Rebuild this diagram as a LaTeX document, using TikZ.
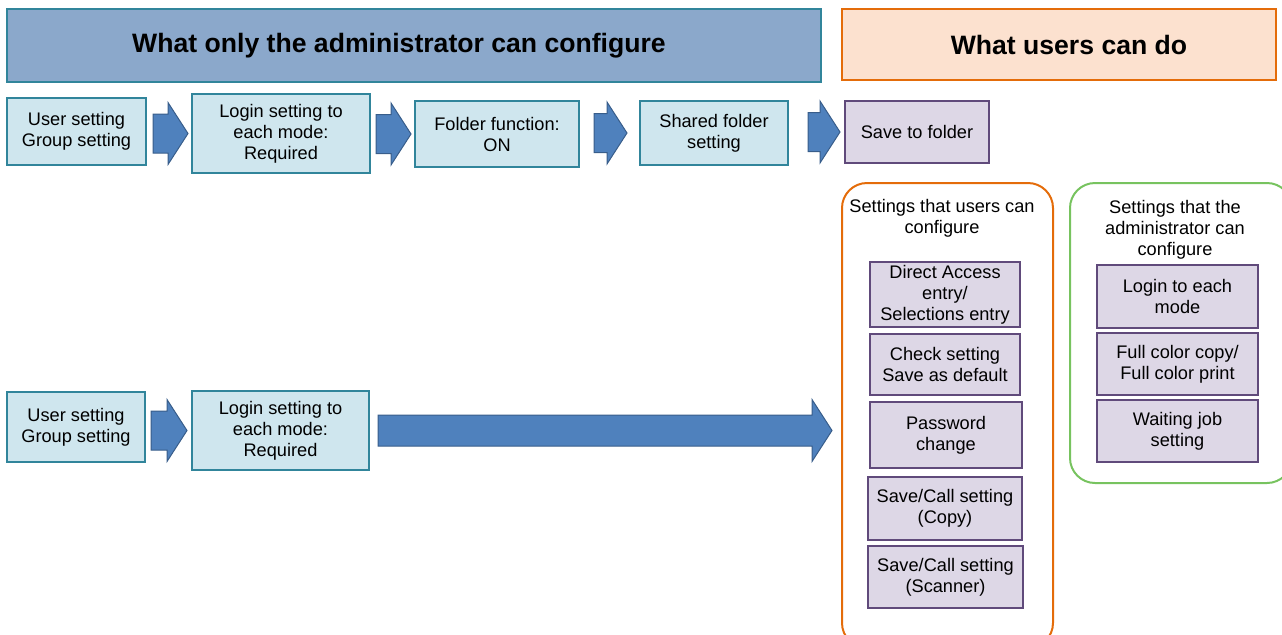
\documentclass[tikz,border=0pt]{standalone}
\usepackage{fontspec}
\setmainfont{Liberation Sans}
\usetikzlibrary{calc}

\definecolor{headblue}{RGB}{139,168,203}
\definecolor{tealline}{RGB}{49,133,155}
\definecolor{boxblue}{RGB}{207,230,238}
\definecolor{arrowblue}{RGB}{79,129,189}
\definecolor{arrowline}{RGB}{56,93,138}
\definecolor{boxlilac}{RGB}{221,215,230}
\definecolor{lilacline}{RGB}{96,74,123}
\definecolor{headpeach}{RGB}{252,225,207}
\definecolor{orangeline}{RGB}{228,108,10}
\definecolor{greenline}{RGB}{119,195,95}

\tikzset{
  header/.style={draw=tealline, fill=headblue, line width=1pt,
    font=\fontsize{13.3}{15}\selectfont\bfseries},
  stepbox/.style={draw=tealline, fill=boxblue, line width=1pt, align=center,
    inner sep=0pt, font=\fontsize{9.1}{10.5}\selectfont},
  itembox/.style={draw=lilacline, fill=boxlilac, line width=1pt, align=center,
    inner sep=0pt, font=\fontsize{9.1}{10.5}\selectfont},
  groupbox/.style={rounded corners=12.5pt, line width=1pt},
  grouptitle/.style={align=center, inner sep=0pt, font=\fontsize{9.1}{10.5}\selectfont},
  blockarrow/.style={fill=arrowblue, draw=arrowline, line width=0.5pt,
    to path={let \p1=(\tikztostart), \p2=(\tikztotarget) in
      (\x1,\y2+#1) -- (\x2-10pt,\y2+#1) -- (\x2-10pt,\y2+15.5pt) -- (\x2,\y2)
      -- (\x2-10pt,\y2-15.5pt) -- (\x2-10pt,\y2-#1) -- (\x1,\y2-#1) -- cycle}},
  blockarrow/.default=9.75pt
}

\begin{document}
\begin{tikzpicture}[x=0.5pt,y=-0.5pt]
  \useasboundingbox (0,0) rectangle (1282,634);
  \clip (0,0) rectangle (1282,634);
  % Headers
  \node[header, minimum width=407pt, minimum height=36.5pt] (admin) at (414,45.5) {What only the administrator can configure\hspace*{15pt}};
  \node[header, draw=orangeline, fill=headpeach, minimum width=217pt, minimum height=35.5pt] (users) at (1059,44.5) {\hspace*{10pt}What users can do};
  % Upper route
  \node[stepbox, minimum width=69.5pt, minimum height=33.5pt] (u1) at (76.5,131.5) {User setting\\Group setting};
  \node[stepbox, minimum width=89pt, minimum height=39.5pt] (l1) at (281,133.5) {Login setting to\\each mode:\\Required};
  \node[stepbox, minimum width=82pt, minimum height=33pt] (f1) at (497,134) {Folder function:\\ON};
  \node[stepbox, minimum width=74pt, minimum height=32pt] (s1) at (714,133) {Shared folder\\setting};
  \node[itembox, minimum width=72pt, minimum height=31pt] (sv) at (917,132) {Save to folder};
  \path[blockarrow] ([xshift=3pt]u1.east) to ([xshift=-1.5pt]l1.west);
  \path[blockarrow] ([xshift=2.5pt]l1.east) to ([xshift=-1.5pt]f1.west);
  \path[blockarrow] ([xshift=7pt]f1.east) to ([xshift=-6pt]s1.west);
  \path[blockarrow] ([xshift=9.5pt]s1.east) to ([xshift=-2pt]sv.west);
  % Lower route
  \node[stepbox, minimum width=69pt, minimum height=35pt] (u2) at (76,427) {User setting\\Group setting};
  \node[stepbox, minimum width=88.5pt, minimum height=39.5pt] (l2) at (280.5,430.5) {Login setting to\\each mode:\\Required};
  % Groups on the right
  \node[groupbox, draw=orangeline, minimum width=105.5pt, minimum height=232.5pt] (ug) at (947.5,415.5) {};
  \node[groupbox, draw=greenline, minimum width=111pt, minimum height=150pt] (ag) at (1181,333) {};
  \node[grouptitle] (ugt) at (942,218.5) {Settings that users can\\configure};
  \node[grouptitle] (agt) at (1175,229.5) {Settings that the\\administrator can\\configure};
  \coordinate (uin) at (ug.west |- l2.east);
  \path[blockarrow] ([xshift=2.5pt]u2.east) to ([xshift=-2pt]l2.west);
  \path[blockarrow=7.75pt] ([xshift=4pt]l2.east) to ([xshift=-4.5pt]uin);
  % Settings that users can configure
  \node[itembox, minimum width=75pt, minimum height=32.5pt] (da) at (945,294.5) {Direct Access\\entry/\\Selections entry};
  \node[itembox, minimum width=75pt, minimum height=30.5pt] (cs) at (945,364.5) {Check setting\\Save as default};
  \node[itembox, minimum width=76pt, minimum height=33pt] (pc) at (946,435) {Password\\change};
  \node[itembox, minimum width=77pt, minimum height=31.5pt] (scc) at (945,508.5) {Save/Call setting\\(Copy)};
  \node[itembox, minimum width=77.5pt, minimum height=31pt] (scs) at (945.5,577) {Save/Call setting\\(Scanner)};
  % Settings that the administrator can configure
  \node[itembox, minimum width=80.5pt, minimum height=31.5pt] (lm) at (1177.5,296.5) {Login to each\\mode};
  \node[itembox, minimum width=80.5pt, minimum height=31pt] (fc) at (1177.5,364) {Full color copy/\\Full color print};
  \node[itembox, minimum width=80.5pt, minimum height=31pt] (wj) at (1177.5,431) {Waiting job\\setting};
\end{tikzpicture}
\end{document}
